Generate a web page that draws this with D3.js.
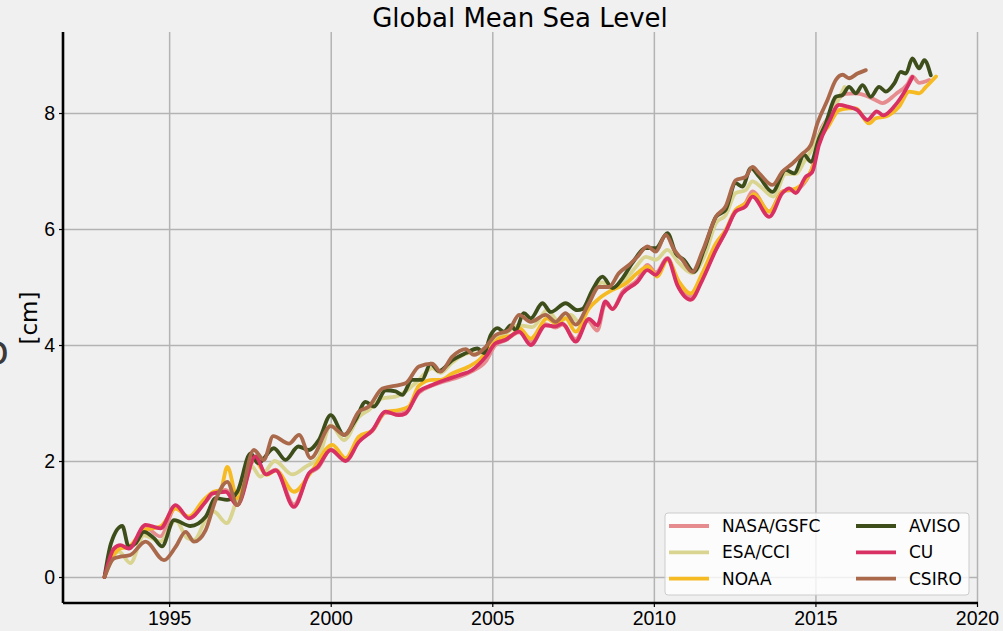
<!DOCTYPE html>
<html>
<head>
    <meta charset="UTF-8">
    <title>Global Mean Sea Level</title>
    <style>
        body { margin: 0; background: #f0f0f0; }
        svg { display: block; font-family: "DejaVu Sans", sans-serif; }
        .grid line { stroke: #b3b3b3; stroke-width: 1.5; }
        .grid path { display: none; }
        .axis text { font-size: 19.5px; fill: #000; }
        .axis line { stroke: #000; stroke-width: 1.2; }
        .axis path { display: none; }
        .series { fill: none; stroke-width: 3.8; stroke-linejoin: round; stroke-linecap: round; }
    </style>
</head>
<body>
<script src="https://cdn.jsdelivr.net/npm/d3@7"></script>
<script>
    // series names, in legend order
    var names = ["NASA/GSFC", "ESA/CCI", "NOAA", "AVISO", "CU", "CSIRO"];
    var colors = ["#e68c8f", "#d9d48f", "#f6ba22", "#3d4e1b", "#d83062", "#aa694b"];

    var xTicks = [1995, 2000, 2005, 2010, 2015, 2020];
    var yTicks = [0, 2, 4, 6, 8];

    // [year, cm]
    var nasa = [[1993.0,0],[1993.3,0.45],[1993.5,0.52],[1993.75,0.5],[1994.27,0.85],[1994.73,0.7],[1995.2,1.2],[1995.61,1.02],[1996.13,1.3],[1996.38,1.45],[1996.75,1.5],[1997.11,1.28],[1997.67,2.05],[1998.0,1.78],[1998.3,1.85],[1998.86,1.25],[1999.33,1.78],[1999.6,1.88],[2000.0,2.2],[2000.46,2.02],[2000.87,2.35],[2001.29,2.52],[2001.7,2.83],[2002.11,2.82],[2002.32,2.85],[2002.73,3.18],[2003.14,3.3],[2003.56,3.38],[2003.97,3.45],[2004.38,3.55],[2004.8,3.72],[2005.1,4.0],[2005.41,4.08],[2005.83,4.22],[2006.19,4.05],[2006.65,4.36],[2006.96,4.3],[2007.17,4.35],[2007.58,4.1],[2007.95,4.42],[2008.25,4.25],[2008.5,4.72],[2008.72,4.62],[2009.03,4.92],[2009.49,5.12],[2009.8,5.38],[2010.06,5.25],[2010.42,5.5],[2010.73,5.1],[2011.14,4.83],[2011.5,5.15],[2011.92,5.65],[2012.22,5.95],[2012.53,6.32],[2012.84,6.45],[2013.05,6.65],[2013.57,6.3],[2013.98,6.65],[2014.39,6.68],[2014.9,7.05],[2015.11,7.62],[2015.42,7.94],[2015.68,8.22],[2015.94,8.33],[2016.25,8.34],[2016.56,8.3],[2016.87,8.22],[2017.07,8.17],[2017.49,8.33],[2017.85,8.5],[2018.0,8.63],[2018.21,8.52],[2018.52,8.57]];
    var esa = [[1993.0,0],[1993.44,0.44],[1993.8,0.24],[1994.22,0.72],[1994.73,0.61],[1995.2,0.98],[1995.56,0.67],[1995.77,0.64],[1996.18,1.04],[1996.38,1.13],[1996.78,0.93],[1997.11,1.36],[1997.52,1.93],[1997.83,1.73],[1998.27,2.0],[1998.81,1.77],[1999.22,1.9],[1999.63,2.07],[2000.0,2.62],[2000.41,2.36],[2000.87,2.76],[2001.18,2.88],[2001.6,3.08],[2002.01,3.11],[2002.32,3.2],[2002.73,3.4],[2003.14,3.6],[2003.4,3.52],[2003.76,3.7],[2004.28,3.86],[2004.6,3.85],[2004.95,4.06],[2005.3,4.15],[2005.83,4.34],[2006.24,4.31],[2006.7,4.6],[2007.07,4.4],[2007.43,4.52],[2007.68,4.4],[2008.1,4.89],[2008.4,5.08],[2008.7,4.98],[2009.1,5.12],[2009.45,5.35],[2009.75,5.52],[2010.06,5.47],[2010.42,5.64],[2010.78,5.41],[2011.19,5.24],[2011.6,5.58],[2011.92,6.1],[2012.22,6.24],[2012.53,6.62],[2012.84,6.67],[2013.05,6.82],[2013.3,6.73],[2013.7,6.56],[2014.08,6.95],[2014.4,6.95],[2014.65,7.16],[2014.91,7.39],[2015.22,7.74],[2015.63,8.14],[2015.9,8.45]];
    var noaa = [[1993.0,0],[1993.2,0.3],[1993.49,0.49],[1993.75,0.52],[1994.22,0.81],[1994.73,0.87],[1995.2,1.18],[1995.61,1.04],[1996.07,1.33],[1996.38,1.47],[1996.59,1.5],[1996.8,1.9],[1997.11,1.36],[1997.62,2.02],[1998.03,1.76],[1998.3,1.84],[1998.86,1.47],[1999.43,1.84],[2000.05,2.28],[2000.46,2.05],[2000.87,2.42],[2001.29,2.53],[2001.7,2.85],[2002.11,2.88],[2002.42,2.94],[2002.73,3.3],[2003.14,3.4],[2003.4,3.4],[2003.76,3.51],[2004.28,3.63],[2004.59,3.74],[2004.95,3.97],[2005.21,4.11],[2005.62,4.17],[2005.83,4.29],[2006.19,4.11],[2006.7,4.46],[2006.96,4.37],[2007.27,4.46],[2007.58,4.23],[2007.99,4.63],[2008.3,4.8],[2008.72,4.95],[2009.13,5.06],[2009.49,5.24],[2009.8,5.35],[2010.11,5.18],[2010.42,5.47],[2010.78,5.09],[2011.14,4.89],[2011.5,5.24],[2011.92,5.75],[2012.22,5.98],[2012.53,6.33],[2012.84,6.44],[2013.1,6.6],[2013.57,6.3],[2014.0,6.65],[2014.4,6.7],[2014.9,7.05],[2015.11,7.5],[2015.42,7.79],[2015.73,8.05],[2016.04,8.08],[2016.25,8.08],[2016.66,7.82],[2016.87,7.91],[2017.18,7.94],[2017.59,8.11],[2017.9,8.37],[2018.21,8.34],[2018.42,8.45],[2018.73,8.63]];
    var aviso = [[1993.0,0],[1993.2,0.58],[1993.55,0.88],[1993.75,0.52],[1993.96,0.58],[1994.22,0.78],[1994.53,0.67],[1994.78,0.53],[1995.15,0.98],[1995.66,0.88],[1996.13,1.04],[1996.44,1.36],[1996.8,1.33],[1997.11,1.47],[1997.52,2.13],[1997.75,1.96],[1998.24,2.22],[1998.6,2.02],[1999.0,2.25],[1999.32,2.19],[1999.63,2.36],[2000.0,2.79],[2000.41,2.45],[2000.77,2.71],[2001.08,3.02],[2001.34,2.94],[2001.7,3.22],[2002.01,3.2],[2002.21,3.14],[2002.52,3.4],[2002.83,3.4],[2003.09,3.68],[2003.35,3.55],[2003.76,3.74],[2004.18,3.86],[2004.54,3.94],[2004.74,3.86],[2004.95,4.17],[2005.16,4.29],[2005.36,4.23],[2005.57,4.34],[2005.72,4.26],[2005.98,4.55],[2006.19,4.46],[2006.55,4.72],[2006.81,4.57],[2007.27,4.72],[2007.63,4.6],[2007.79,4.62],[2008.1,4.95],[2008.41,5.18],[2008.72,4.98],[2009.03,5.15],[2009.33,5.41],[2009.75,5.67],[2010.06,5.67],[2010.42,5.93],[2010.68,5.58],[2010.93,5.47],[2011.24,5.26],[2011.55,5.64],[2011.92,6.21],[2012.22,6.33],[2012.53,6.79],[2012.74,6.73],[2013.0,7.05],[2013.26,6.9],[2013.67,6.64],[2014.08,7.02],[2014.34,6.96],[2014.65,7.28],[2014.86,7.16],[2015.11,7.56],[2015.32,7.82],[2015.63,8.28],[2015.84,8.31],[2016.04,8.45],[2016.25,8.34],[2016.46,8.48],[2016.71,8.28],[2016.97,8.45],[2017.18,8.37],[2017.44,8.51],[2017.64,8.71],[2017.8,8.68],[2018.0,8.94],[2018.21,8.77],[2018.37,8.91],[2018.57,8.65]];
    var cu = [[1993.0,0],[1993.29,0.49],[1993.49,0.55],[1993.75,0.49],[1994.27,0.9],[1994.73,0.84],[1995.2,1.24],[1995.61,1.01],[1996.13,1.3],[1996.33,1.44],[1996.75,1.47],[1997.11,1.24],[1997.67,2.08],[1998.0,1.77],[1998.3,1.84],[1998.86,1.21],[1999.33,1.79],[1999.6,1.9],[2000.0,2.19],[2000.46,2.0],[2000.87,2.33],[2001.29,2.53],[2001.7,2.85],[2002.11,2.79],[2002.32,2.82],[2002.73,3.2],[2003.14,3.31],[2003.56,3.4],[2003.97,3.48],[2004.38,3.57],[2004.8,3.8],[2005.1,4.03],[2005.41,4.09],[2005.83,4.23],[2006.19,4.0],[2006.65,4.34],[2006.96,4.32],[2007.17,4.37],[2007.58,4.06],[2007.99,4.45],[2008.25,4.34],[2008.5,4.75],[2008.72,4.62],[2009.03,4.89],[2009.49,5.09],[2009.8,5.29],[2010.06,5.21],[2010.42,5.49],[2010.73,5.03],[2011.14,4.78],[2011.5,5.12],[2011.92,5.64],[2012.22,5.95],[2012.53,6.3],[2012.84,6.39],[2013.05,6.56],[2013.57,6.21],[2013.98,6.62],[2014.19,6.7],[2014.39,6.62],[2014.7,6.9],[2014.9,6.98],[2015.11,7.45],[2015.42,7.85],[2015.73,8.14],[2016.0,8.11],[2016.3,8.05],[2016.61,7.88],[2016.9,8.03],[2017.1,7.96],[2017.45,8.12],[2017.75,8.36],[2018.0,8.62]];
    var csiro = [[1993.0,0],[1993.29,0.32],[1993.49,0.35],[1993.8,0.38],[1994.27,0.61],[1994.84,0.29],[1995.2,0.52],[1995.51,0.78],[1995.77,0.61],[1996.13,0.81],[1996.44,1.33],[1996.8,1.64],[1997.11,1.24],[1997.62,2.19],[1997.93,2.02],[1998.22,2.43],[1998.71,2.3],[1999.02,2.45],[1999.38,2.05],[2000.0,2.6],[2000.43,2.45],[2000.87,2.85],[2001.18,2.94],[2001.6,3.25],[2002.11,3.31],[2002.32,3.34],[2002.73,3.63],[2003.14,3.68],[2003.4,3.54],[2003.76,3.8],[2004.18,3.93],[2004.43,3.83],[2004.8,3.97],[2005.1,4.17],[2005.52,4.26],[2005.83,4.52],[2006.19,4.4],[2006.65,4.52],[2006.96,4.4],[2007.27,4.55],[2007.58,4.35],[2007.99,4.72],[2008.3,5.0],[2008.61,5.0],[2008.92,5.24],[2009.23,5.38],[2009.49,5.52],[2009.8,5.7],[2010.06,5.61],[2010.37,5.9],[2010.63,5.64],[2010.88,5.47],[2011.19,5.26],[2011.5,5.61],[2011.92,6.21],[2012.22,6.39],[2012.53,6.84],[2012.84,6.9],[2013.05,7.07],[2013.26,6.96],[2013.67,6.76],[2013.98,6.99],[2014.29,7.13],[2014.6,7.3],[2014.86,7.45],[2015.06,7.82],[2015.37,8.22],[2015.63,8.57],[2015.84,8.66],[2016.04,8.6],[2016.3,8.68],[2016.56,8.74]];

    var allSeries = [nasa, esa, noaa, aviso, cu, csiro];

    var W = 1003, H = 631;
    var margin = {top: 32, right: 26, bottom: 28, left: 63},
        width = W - margin.left - margin.right,
        height = H - margin.top - margin.bottom;

    var x = d3.scaleLinear().domain([1991.715, 2020.0]).range([0, width]);
    var y = d3.scaleLinear().domain([-0.448, 9.397]).range([height, 0]);

    var svg = d3.select("body").append("svg")
        .attr("width", W)
        .attr("height", H);

    svg.append("rect").attr("width", W).attr("height", H).attr("fill", "#f0f0f0");

    var g = svg.append("g")
        .attr("transform", "translate(" + margin.left + "," + margin.top + ")");

    // grid
    g.append("g")
        .attr("class", "grid")
        .attr("transform", "translate(0," + height + ")")
        .call(d3.axisBottom(x).tickValues(xTicks).tickSize(-height).tickFormat(""));
    g.append("g")
        .attr("class", "grid")
        .call(d3.axisLeft(y).tickValues(yTicks).tickSize(-width).tickFormat(""));

    // axes
    g.append("g")
        .attr("class", "axis")
        .attr("transform", "translate(0," + height + ")")
        .call(d3.axisBottom(x).tickValues(xTicks).tickSize(4).tickPadding(4).tickFormat(d3.format("d")));
    g.append("g")
        .attr("class", "axis")
        .call(d3.axisLeft(y).tickValues(yTicks).tickSize(4).tickPadding(4).tickFormat(d3.format("d")));

    // spines
    g.append("line").attr("x1", 0).attr("x2", 0).attr("y1", 0).attr("y2", height)
        .attr("stroke", "#000").attr("stroke-width", 2.6);
    g.append("line").attr("x1", 0).attr("x2", width + 1).attr("y1", height).attr("y2", height)
        .attr("stroke", "#000").attr("stroke-width", 2.6);

    var line = d3.line()
        .x(function (d) { return x(d[0]); })
        .y(function (d) { return y(d[1]); })
        .curve(d3.curveMonotoneX);

    g.selectAll(".series")
        .data(allSeries)
        .enter().append("path")
        .attr("class", "series")
        .attr("stroke", function (d, i) { return colors[i]; })
        .attr("d", line);

    // title and labels
    svg.append("text")
        .attr("x", margin.left + width / 2)
        .attr("y", 27)
        .attr("text-anchor", "middle")
        .style("font-size", "26px")
        .text("Global Mean Sea Level");

    svg.append("text")
        .attr("transform", "translate(37,318) rotate(-90)")
        .attr("text-anchor", "middle")
        .style("font-size", "23px")
        .text("[cm]");

    svg.append("text")
        .attr("x", 9)
        .attr("y", 364)
        .attr("text-anchor", "end")
        .style("font-size", "40px")
        .attr("fill", "#3a3a3a")
        .text("o");

    // legend
    var leg = svg.append("g").attr("transform", "translate(665,513)");
    leg.append("rect")
        .attr("width", 304).attr("height", 82)
        .attr("rx", 3)
        .attr("fill", "#ffffff").attr("fill-opacity", 0.8)
        .attr("stroke", "#cccccc");

    var items = leg.selectAll(".item")
        .data(names)
        .enter().append("g")
        .attr("class", "item")
        .attr("transform", function (d, i) {
            return "translate(" + (i < 3 ? 4 : 191) + "," + (13 + (i % 3) * 26.3) + ")";
        });
    items.append("line")
        .attr("x1", 0).attr("x2", 40)
        .attr("stroke", function (d, i) { return colors[i]; })
        .attr("stroke-width", 3.8);
    items.append("text")
        .attr("x", 53)
        .attr("dy", "0.36em")
        .style("font-size", "17px")
        .text(function (d) { return d; });
</script>
</body>
</html>
